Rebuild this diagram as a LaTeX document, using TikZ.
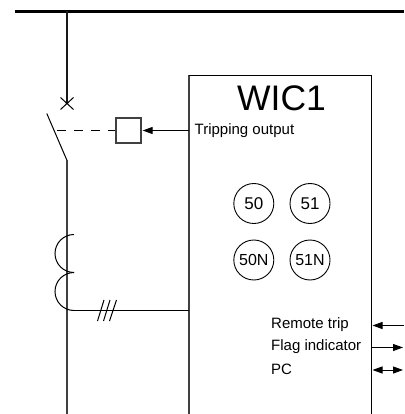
\documentclass[tikz,border=0pt]{standalone}
\usepackage{fontspec}
\setmainfont{Liberation Sans}
\usetikzlibrary{arrows.meta}
\tikzset{
 x=1pt,y=-1pt,
 wire/.style={draw=black!75,line width=1.4pt},
 thin wire/.style={draw=black,line width=1pt},
 tip/.style={-{Triangle[length=10pt,width=7pt]},shorten >=1pt},
 relay/.style={circle,draw=black,line width=0.9pt,minimum size=40pt,inner sep=0pt,font=\fontsize{17}{17}\selectfont},
 relayn/.style={relay,font=\fontsize{16}{16}\selectfont},
 tag/.style={anchor=west,inner sep=0pt,font=\fontsize{15}{15}\selectfont},
}
\begin{document}
\begin{tikzpicture}
\useasboundingbox (0,0) rectangle (404,414);
\fill[white] (0,0) rectangle (404,414);
% busbar and feeder
\coordinate (busL) at (15,11.5);
\coordinate (busR) at (404,11.5);
\coordinate (tap) at (66.8,11.5);
\coordinate (iso) at (66.8,103.5);
\draw[line width=3pt,black] (busL) -- (busR);
\draw[line width=1.6pt,black!90] (tap) -- (iso);
\draw[thin wire] (60.5,97.5) -- (73.5,109.5) (73.5,97.5) -- (60.5,109.5);
% switch
\coordinate (swT) at (46.8,113.5);
\coordinate (swB) at (66.8,160);
\coordinate (bot) at (66.8,414);
\draw[thin wire] (swT) -- (swB);
\draw[wire] (swB) -- (bot);
% relay box
\coordinate (boxTL) at (189,75);
\coordinate (boxTR) at (371.5,75);
\coordinate (boxB) at (189,414);
\coordinate (boxBR) at (371.5,414);
\draw[wire] (boxB) -- (boxTL);
\draw[thin wire,line width=0.9pt] (boxTL) -- (boxTR) -- (boxBR);
\node[inner sep=0pt,font=\fontsize{35.5}{35.5}\selectfont] (title) at (281.5,98.5) {WIC1};
% trip coil
\node[draw=black!75,line width=1.3pt,minimum size=25pt,inner sep=0pt] (coil) at (128.5,130.5) {};
\coordinate (swM) at (57,130.5);
\coordinate (boxT) at (189,130.5);
\draw[thin wire,dash pattern=on 9pt off 8pt] (swM) -- (coil.west);
\draw[thin wire,tip] (boxT) -- (coil.east);
\node[tag] (trip) at (194.5,130.5) {Tripping output};
% relays
\node[relay] (r50) at (253.8,203.5) {50};
\node[relay] (r51) at (310,203.5) {51};
\node[relayn] (r50n) at (253.8,260) {50N};
\node[relayn] (r51n) at (310,260) {51N};
% current transformer
\coordinate (ctA) at (74,234.5);
\coordinate (ctB) at (74,272.5);
\coordinate (ctC) at (74,310.5);
\coordinate (boxCT) at (189,310.5);
\draw[thin wire] (ctA) arc[start angle=90,end angle=270,radius=19pt];
\draw[thin wire] (ctB) arc[start angle=90,end angle=270,radius=19pt];
\draw[thin wire] (ctC) -- (boxCT);
\draw[thin wire] (97.5,321) -- (104,300) (103.5,321) -- (110,300) (109.5,321) -- (116.5,300);
% signals
\node[tag] (rem) at (271,324.5) {Remote trip};
\node[tag] (flag) at (271,347) {Flag indicator};
\node[tag] (pc) at (271,369.5) {PC};
\coordinate (a1) at (404,325.5);
\coordinate (a1b) at (371.5,325.5);
\coordinate (a2) at (371.5,347.5);
\coordinate (a2b) at (404,347.5);
\coordinate (a3) at (371.5,370);
\coordinate (a3b) at (404,370);
\draw[thin wire,tip] (a1) -- (a1b);
\draw[thin wire,tip] (a2) -- (a2b);
\draw[thin wire,{Triangle[length=10pt,width=7pt]}-{Triangle[length=10pt,width=7pt]},shorten >=1pt,shorten <=1pt] (a3) -- (a3b);
\end{tikzpicture}
\end{document}
